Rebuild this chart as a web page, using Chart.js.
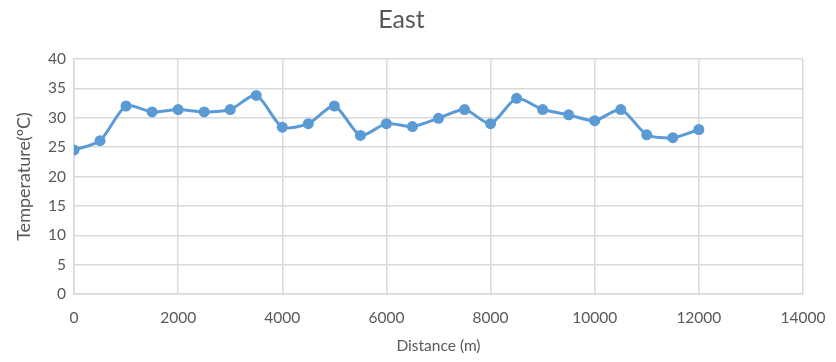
<!DOCTYPE html>
<html>
<head>
<meta charset="utf-8">
<script src="https://cdn.jsdelivr.net/npm/chart.js@4/dist/chart.umd.min.js"></script>
<style>
  html, body { margin: 0; padding: 0; background: #fff; }
  #wrap { width: 836px; height: 362px; }
</style>
</head>
<body>
<div id="wrap"><canvas id="chartEast"></canvas></div>
<script>
// Datos
const distancias = [0, 500, 1000, 1500, 2000, 2500, 3000, 3500, 4000, 4500, 5000, 5500, 6000,
    6500, 7000, 7500, 8000, 8500, 9000, 9500, 10000, 10500, 11000, 11500, 12000];
const temperaturas = [24.5, 26.1, 32.0, 31.0, 31.4, 31.0, 31.4, 33.8, 28.4, 29.0, 32.0, 27.0, 29.0,
    28.5, 29.9, 31.4, 29.0, 33.3, 31.4, 30.5, 29.5, 31.4, 27.1, 26.6, 28.0];
const ticksX = [0, 2000, 4000, 6000, 8000, 10000, 12000, 14000];
const ticksY = [0, 5, 10, 15, 20, 25, 30, 35, 40];

const colorTexto = '#595959';
const colorGrid = '#d9d9d9';
const colorSerie = '#5b9bd5';
const fuente = 'Lato, "Liberation Sans", sans-serif';

const puntos = distancias.map((d, i) => ({ x: d, y: temperaturas[i] }));

new Chart(document.getElementById('chartEast'), {
    type: 'line',
    data: {
        datasets: [{
            label: 'East',
            data: puntos,
            borderColor: colorSerie,
            backgroundColor: colorSerie,
            borderWidth: 3,
            pointRadius: 5.5,
            pointBorderWidth: 0,
            tension: 0.25,
            fill: false
        }]
    },
    options: {
        responsive: true,
        maintainAspectRatio: false,
        animation: false,
        layout: {
            padding: { left: 0, right: 33, top: 0, bottom: 0 }
        },
        plugins: {
            legend: { display: false },
            tooltip: { enabled: false },
            title: {
                display: true,
                text: 'East',
                color: colorTexto,
                font: { family: fuente, size: 25, weight: 'normal' },
                padding: { top: 5, bottom: 24 }
            }
        },
        scales: {
            x: {
                type: 'linear',
                min: 0,
                max: 14000,
                afterBuildTicks: scale => { scale.ticks = ticksX.map(v => ({ value: v })); },
                afterFit: scale => {
                    scale.height = 68;
                    scale.paddingRight = 0;
                },
                grid: { color: colorGrid, lineWidth: 1.5, drawTicks: false },
                border: { color: colorGrid, width: 1.5 },
                ticks: {
                    color: colorTexto,
                    font: { family: fuente, size: 15.5 },
                    padding: 15,
                    maxRotation: 0,
                    callback: v => String(v)
                },
                title: {
                    display: true,
                    text: 'Distance (m)',
                    color: colorTexto,
                    font: { family: fuente, size: 15.5 },
                    padding: { top: 0, bottom: 7 }
                }
            },
            y: {
                type: 'linear',
                min: 0,
                max: 40,
                afterBuildTicks: scale => { scale.ticks = ticksY.map(v => ({ value: v })); },
                afterFit: scale => { scale.width = 74; },
                grid: { color: colorGrid, lineWidth: 1.5, drawTicks: false },
                border: { color: colorGrid, width: 1.5 },
                ticks: {
                    color: colorTexto,
                    font: { family: fuente, size: 15.5 },
                    padding: 8
                },
                title: {
                    display: true,
                    text: 'Temperature(ºC)',
                    color: colorTexto,
                    font: { family: fuente, size: 18 },
                    padding: { top: 13, bottom: 0 }
                }
            }
        }
    }
});
</script>
</body>
</html>
